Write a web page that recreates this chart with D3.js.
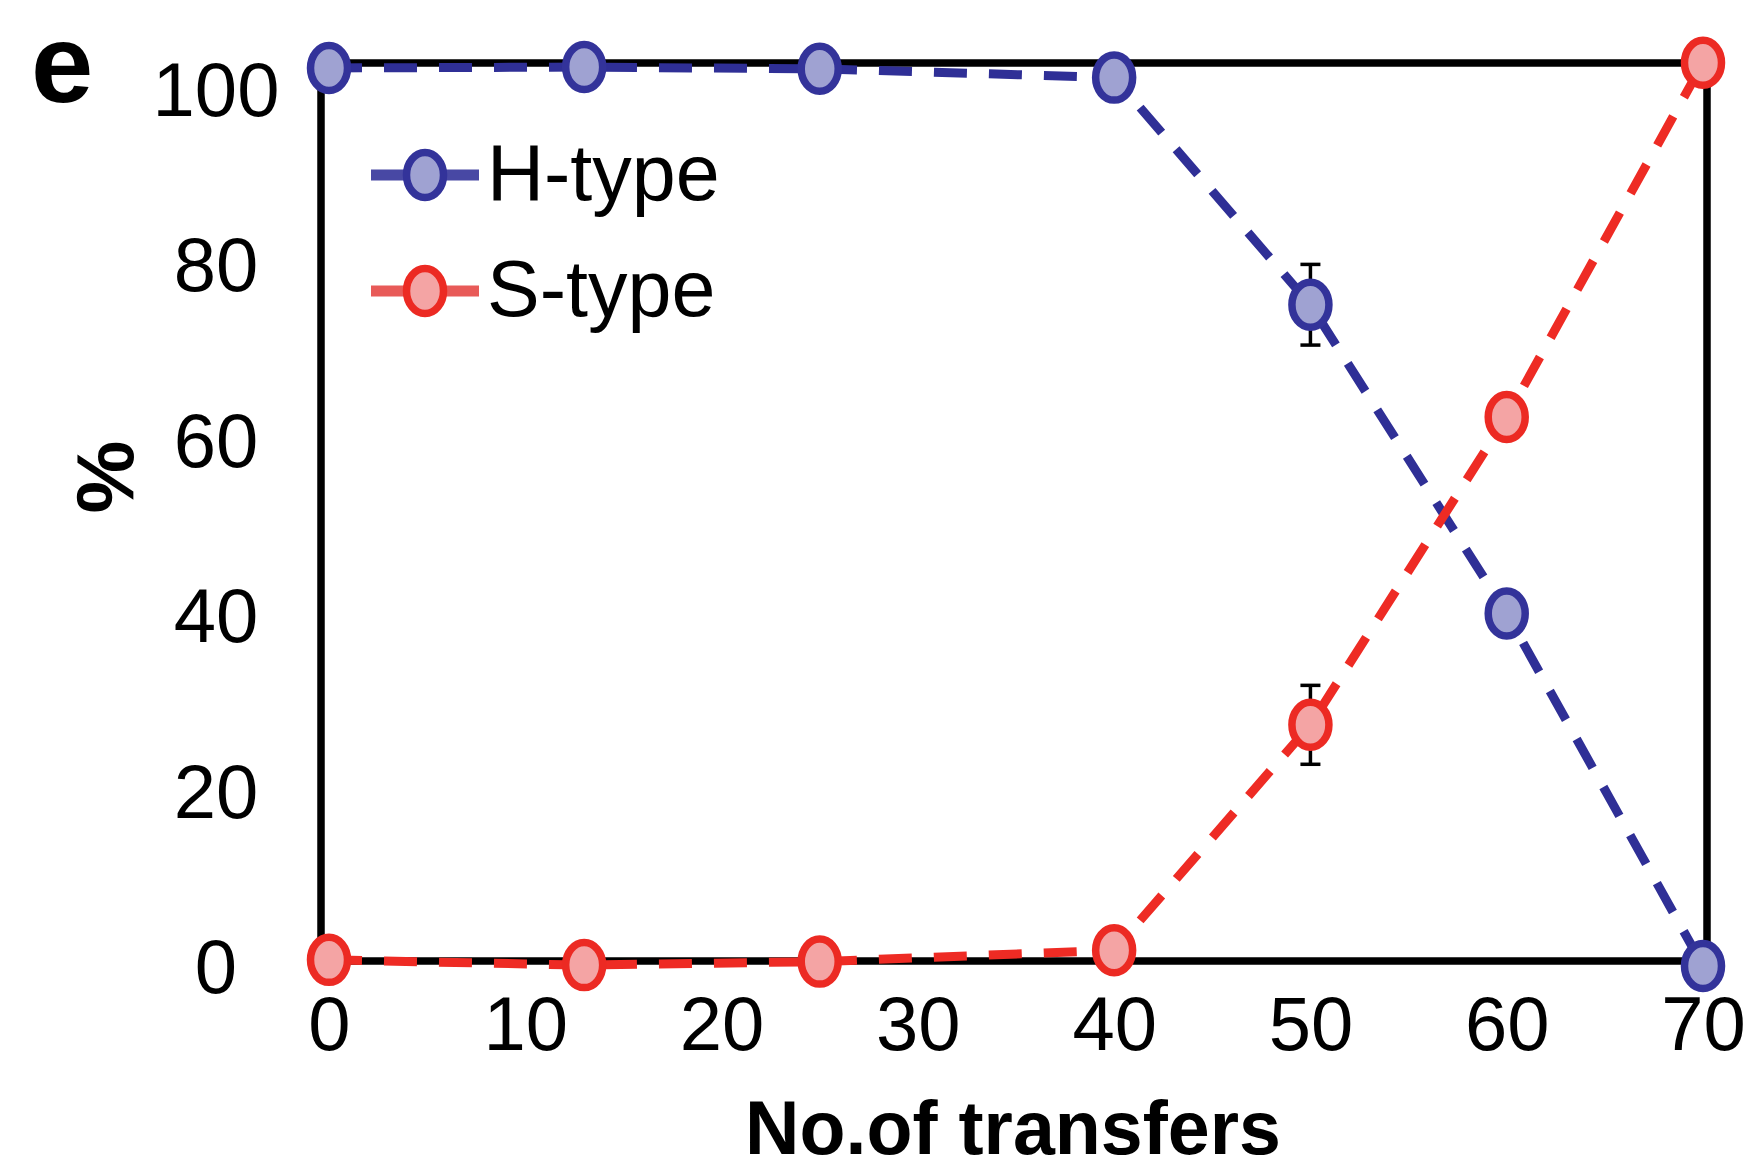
<!DOCTYPE html>
<html>
<head>
<meta charset="utf-8">
<script src="https://cdn.jsdelivr.net/npm/d3@7"></script>
<style>
  html, body { margin: 0; padding: 0; background: #ffffff; }
  svg { display: block; }
  text { font-family: "Liberation Sans", Arial, Helvetica, sans-serif; fill: #000; }
</style>
</head>
<body>
<svg id="chart" width="1749" height="1171"></svg>
<script>
// Number of transfers at which each culture was scored
const transfers = [0, 13, 25, 40, 50, 60, 70];
// Percentage of colonies of each type
const hType = [102.4, 102.5, 102.3, 101.3, 75.4, 40.2, 0];
const sType = [0.7, 0.1, 0.5, 1.8, 27.5, 62.6, 103.0];
// Error (± %) for each point
const hErr = [0, 0, 0, 0, 4.6, 0, 0];
const sErr = [0, 0, 0, 0, 4.5, 0, 0];
// Axis tick values
const xTicks = [0, 10, 20, 30, 40, 50, 60, 70];
const yTicks = [0, 20, 40, 60, 80, 100];
const seriesNames = ["H-type", "S-type"];

const svg = d3.select("#chart");

// plot frame (pixel layout)
const frame = { left: 321, right: 1707, top: 63, bottom: 961 };

const x = d3.scaleLinear().domain([0, 70]).range([329, 1703]);
const y = d3.scaleLinear().domain([0, 100]).range([966, 89]);

const styles = {
  "H-type": { line: "#2f2f96", stroke: "#33339a", fill: "#9fa2d2", legendLine: "#4848a4" },
  "S-type": { line: "#ee2b24", stroke: "#ec2a23", fill: "#f4a4a4", legendLine: "#e85a58" }
};

// frame box
svg.append("rect")
  .attr("x", frame.left).attr("y", frame.top)
  .attr("width", frame.right - frame.left)
  .attr("height", frame.bottom - frame.top)
  .attr("fill", "none").attr("stroke", "#000").attr("stroke-width", 7.5);

// y tick labels
const yAxis = d3.axisLeft(y).tickValues(yTicks).tickSize(0).tickFormat(d3.format("d"));
const yg = svg.append("g").attr("transform", "translate(216,0)").call(yAxis);
yg.select(".domain").remove();
yg.selectAll("text")
  .attr("x", 0).attr("dy", null)
  .attr("text-anchor", "middle")
  .attr("dominant-baseline", "central")
  .style("font-family", '"Liberation Sans", Arial, sans-serif')
  .style("font-size", "76px").attr("fill", "#000");

// x tick labels
const xAxis = d3.axisBottom(x).tickValues(xTicks).tickSize(0).tickFormat(d3.format("d"));
const xg = svg.append("g").attr("transform", "translate(0,1023)").call(xAxis);
xg.select(".domain").remove();
xg.selectAll("text")
  .attr("y", 0).attr("dy", null)
  .attr("text-anchor", "middle")
  .attr("dominant-baseline", "central")
  .style("font-family", '"Liberation Sans", Arial, sans-serif')
  .style("font-size", "76px").attr("fill", "#000");

// axis titles
svg.append("text")
  .attr("x", 1013).attr("y", 1154)
  .attr("text-anchor", "middle")
  .attr("font-weight", "bold")
  .attr("font-size", 76)
  .attr("textLength", 536).attr("lengthAdjust", "spacingAndGlyphs")
  .text("No.of transfers");

svg.append("text")
  .attr("transform", "translate(104,477) rotate(-90)")
  .attr("text-anchor", "middle")
  .attr("dominant-baseline", "central")
  .attr("font-weight", "bold")
  .attr("font-size", 82)
  .text("%");

// panel letter
svg.append("text")
  .attr("x", 31).attr("y", 102)
  .attr("font-weight", "bold")
  .attr("font-size", 112)
  .text("e");

const series = [
  { name: "H-type", values: hType, err: hErr },
  { name: "S-type", values: sType, err: sErr }
];

const line = d3.line().x(d => x(d.t)).y(d => y(d.v));

series.forEach(s => {
  const pts = transfers.map((t, i) => ({ t, v: s.values[i], e: s.err[i] }));
  const st = styles[s.name];

  svg.append("path")
    .datum(pts)
    .attr("d", line)
    .attr("fill", "none")
    .attr("stroke", st.line)
    .attr("stroke-width", 9)
    .attr("stroke-dasharray", "33,22");

  // error bars
  const eb = svg.append("g").attr("stroke", "#000").attr("stroke-width", 3.5);
  pts.filter(p => p.e > 0).forEach(p => {
    const cx = x(p.t), y0 = y(p.v + p.e), y1 = y(p.v - p.e);
    eb.append("line").attr("x1", cx).attr("x2", cx).attr("y1", y0).attr("y2", y1);
    eb.append("line").attr("x1", cx - 10).attr("x2", cx + 10).attr("y1", y0).attr("y2", y0);
    eb.append("line").attr("x1", cx - 10).attr("x2", cx + 10).attr("y1", y1).attr("y2", y1);
  });
});

// markers on top of both lines
series.forEach(s => {
  const st = styles[s.name];
  svg.append("g").selectAll("ellipse")
    .data(transfers.map((t, i) => ({ t, v: s.values[i] })))
    .join("ellipse")
    .attr("cx", d => x(d.t)).attr("cy", d => y(d.v))
    .attr("rx", 18.5).attr("ry", 22.5)
    .attr("fill", st.fill)
    .attr("stroke", st.stroke)
    .attr("stroke-width", 7.5);
});

// legend
const legend = svg.append("g");
const legendRows = [175, 291];
seriesNames.forEach((name, i) => {
  const st = styles[name];
  const cy = legendRows[i];
  legend.append("line")
    .attr("x1", 371).attr("x2", 479).attr("y1", cy).attr("y2", cy)
    .attr("stroke", st.legendLine).attr("stroke-width", 11);
  legend.append("ellipse")
    .attr("cx", 425).attr("cy", cy)
    .attr("rx", 18.5).attr("ry", 22.5)
    .attr("fill", st.fill).attr("stroke", st.stroke).attr("stroke-width", 7.5);
  legend.append("text")
    .attr("x", 487).attr("y", cy + 25)
    .attr("font-size", 79)
    .text(name);
});
</script>
</body>
</html>
